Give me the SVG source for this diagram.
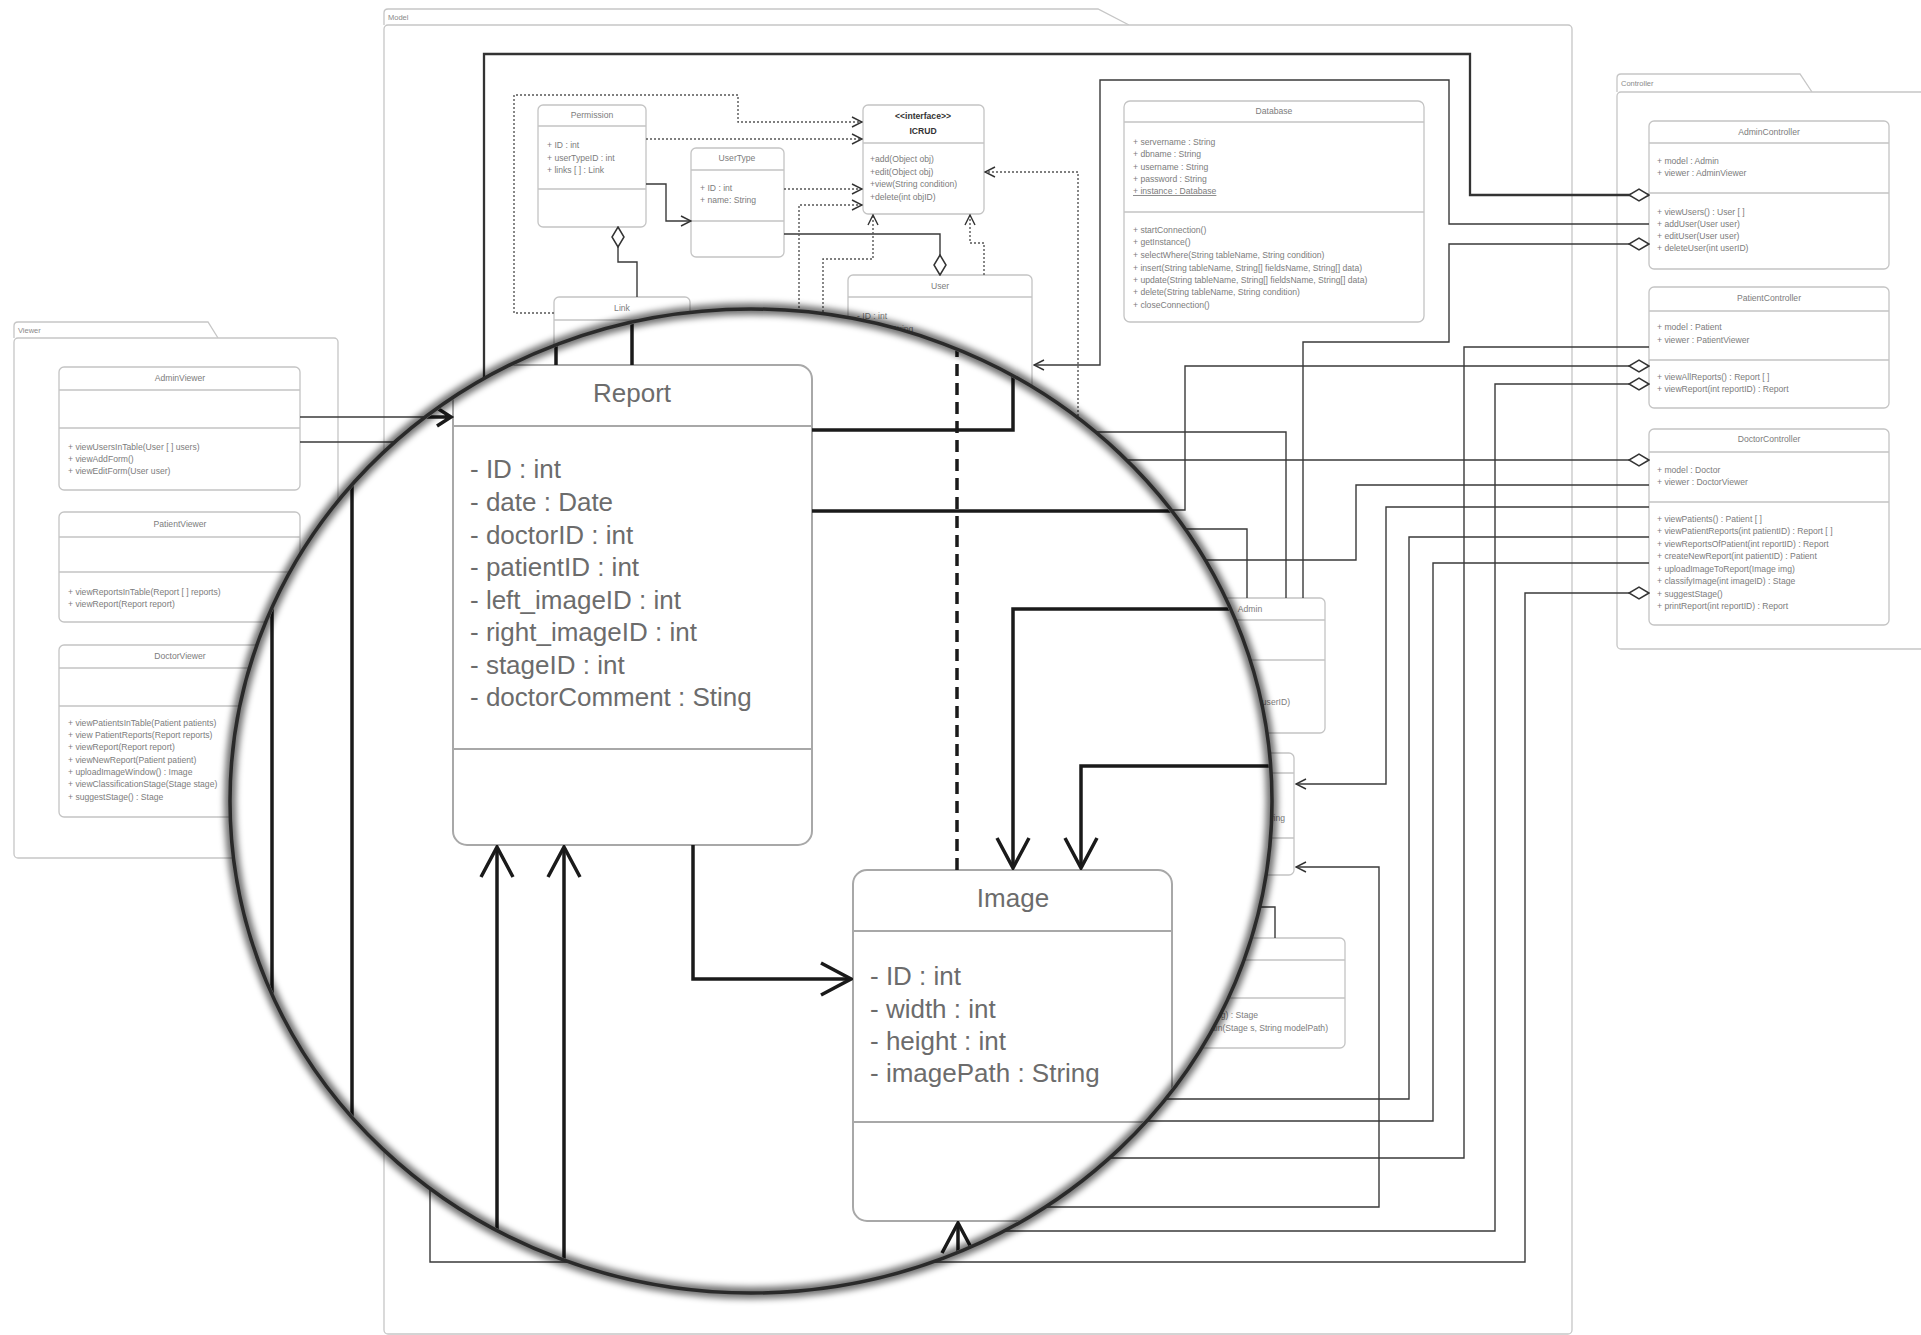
<svg xmlns="http://www.w3.org/2000/svg" width="1921" height="1335" viewBox="0 0 1921 1335">
<defs>
<style>
.pkg{fill:#fff;stroke:#c6c6c6;stroke-width:1.3}
.box{fill:#fff;stroke:#c4c4c4;stroke-width:1.3}
.sep{stroke:#c4c4c4;stroke-width:1.3;fill:none}
.t{font-family:"Liberation Sans",Arial,sans-serif;font-size:8.6px;fill:#7c7c7c}
.c{text-anchor:middle}
.e{text-anchor:end}
.b{font-weight:bold;fill:#333}
.pl{font-family:"Liberation Sans",Arial,sans-serif;font-size:7.5px;fill:#8a8a8a}
.ln{fill:none;stroke:#3a3a3a;stroke-width:1.4}
.thk{stroke-width:2.3;stroke:#333}
.dot{fill:none;stroke:#555;stroke-width:1.4;stroke-dasharray:2 2}
.mbox{fill:#fff;stroke:#a8a8a8;stroke-width:2}
.msep{stroke:#a8a8a8;stroke-width:2;fill:none}
.mt{font-family:"Liberation Sans",Arial,sans-serif;font-size:26px;fill:#6c6c6c}
.big{fill:none;stroke:#1a1a1a;stroke-width:3.5}
.dash{stroke-dasharray:12 7}
</style>
<marker id="arr" viewBox="0 0 12 12" refX="11" refY="6" markerWidth="12" markerHeight="12" orient="auto" markerUnits="userSpaceOnUse"><path d="M1,1 L11,6 L1,11" fill="none" stroke="#333" stroke-width="1.4"/></marker>
<marker id="dia" viewBox="0 0 22 14" refX="1" refY="7" markerWidth="22" markerHeight="14" orient="auto" markerUnits="userSpaceOnUse"><path d="M1,7 L11,1 L21,7 L11,13 Z" fill="#fff" stroke="#333" stroke-width="1.5"/></marker>
<marker id="arrB" viewBox="0 0 34 36" refX="32" refY="18" markerWidth="34" markerHeight="36" orient="auto" markerUnits="userSpaceOnUse"><path d="M2,2 L32,18 L2,34" fill="none" stroke="#1a1a1a" stroke-width="3.5"/></marker>
<clipPath id="lens"><ellipse cx="751" cy="801" rx="519" ry="490"/></clipPath>
<filter id="blur" x="-10%" y="-10%" width="120%" height="120%"><feGaussianBlur stdDeviation="3"/></filter>
</defs>
<rect x="0" y="0" width="1921" height="1335" fill="#fff"/>

<!-- packages -->
<g id="pkg-model">
<path class="pkg" d="M384,25 V13 Q384,9 388,9 H1098 L1129,25"/>
<rect class="pkg" x="384" y="25" width="1188" height="1309" rx="4"/>
<text class="pl" x="388" y="20">Model</text>
</g>
<g id="pkg-viewer">
<path class="pkg" d="M14,338 V326 Q14,322 18,322 H208 L218,338"/>
<rect class="pkg" x="14" y="338" width="324" height="520" rx="4"/>
<text class="pl" x="18" y="333">Viewer</text>
</g>
<g id="pkg-controller">
<path class="pkg" d="M1617,92 V78 Q1617,74 1621,74 H1800 L1812,92"/>
<rect class="pkg" x="1617" y="92" width="330" height="557" rx="4"/>
<text class="pl" x="1621" y="86">Controller</text>
</g>

<!-- viewer nodes -->
<g id="AdminViewer">
<rect class="box" x="59" y="367" width="241" height="123" rx="5"/>
<path class="sep" d="M59,390 H300 M59,428 H300"/>
<text class="t c" x="180" y="381">AdminViewer</text>
<text class="t" x="68" y="450">+ viewUsersInTable(User [ ] users)</text>
<text class="t" x="68" y="462">+ viewAddForm()</text>
<text class="t" x="68" y="474">+ viewEditForm(User user)</text>
</g>
<g id="PatientViewer">
<rect class="box" x="59" y="512" width="241" height="110" rx="5"/>
<path class="sep" d="M59,537 H300 M59,572 H300"/>
<text class="t c" x="180" y="527">PatientViewer</text>
<text class="t" x="68" y="595">+ viewReportsInTable(Report [ ] reports)</text>
<text class="t" x="68" y="607">+ viewReport(Report report)</text>
</g>
<g id="DoctorViewer">
<rect class="box" x="59" y="645" width="241" height="172" rx="5"/>
<path class="sep" d="M59,668 H300 M59,706 H300"/>
<text class="t c" x="180" y="659">DoctorViewer</text>
<text class="t" x="68" y="726">+ viewPatientsInTable(Patient patients)</text>
<text class="t" x="68" y="738">+ view PatientReports(Report reports)</text>
<text class="t" x="68" y="750">+ viewReport(Report report)</text>
<text class="t" x="68" y="763">+ viewNewReport(Patient patient)</text>
<text class="t" x="68" y="775">+ uploadImageWindow() : Image</text>
<text class="t" x="68" y="787">+ viewClassificationStage(Stage stage)</text>
<text class="t" x="68" y="800">+ suggestStage() : Stage</text>
</g>

<!-- controller nodes -->
<g id="AdminController">
<rect class="box" x="1649" y="121" width="240" height="148" rx="5"/>
<path class="sep" d="M1649,143 H1889 M1649,193 H1889"/>
<text class="t c" x="1769" y="135">AdminController</text>
<text class="t" x="1657" y="164">+ model : Admin</text>
<text class="t" x="1657" y="176">+ viewer : AdminViewer</text>
<text class="t" x="1657" y="215">+ viewUsers() : User [ ]</text>
<text class="t" x="1657" y="227">+ addUser(User user)</text>
<text class="t" x="1657" y="239">+ editUser(User user)</text>
<text class="t" x="1657" y="251">+ deleteUser(int userID)</text>
</g>
<g id="PatientController">
<rect class="box" x="1649" y="287" width="240" height="121" rx="5"/>
<path class="sep" d="M1649,311 H1889 M1649,360 H1889"/>
<text class="t c" x="1769" y="301">PatientController</text>
<text class="t" x="1657" y="330">+ model : Patient</text>
<text class="t" x="1657" y="343">+ viewer : PatientViewer</text>
<text class="t" x="1657" y="380">+ viewAllReports() : Report [ ]</text>
<text class="t" x="1657" y="392">+ viewReport(int reportID) : Report</text>
</g>
<g id="DoctorController">
<rect class="box" x="1649" y="429" width="240" height="196" rx="5"/>
<path class="sep" d="M1649,452 H1889 M1649,502 H1889"/>
<text class="t c" x="1769" y="442">DoctorController</text>
<text class="t" x="1657" y="473">+ model : Doctor</text>
<text class="t" x="1657" y="485">+ viewer : DoctorViewer</text>
<text class="t" x="1657" y="522">+ viewPatients() : Patient [ ]</text>
<text class="t" x="1657" y="534">+ viewPatientReports(int patientID) : Report [ ]</text>
<text class="t" x="1657" y="547">+ viewReportsOfPatient(int reportID) : Report</text>
<text class="t" x="1657" y="559">+ createNewReport(int patientID) : Patient</text>
<text class="t" x="1657" y="572">+ uploadImageToReport(Image img)</text>
<text class="t" x="1657" y="584">+ classifyImage(int imageID) : Stage</text>
<text class="t" x="1657" y="597">+ suggestStage()</text>
<text class="t" x="1657" y="609">+ printReport(int reportID) : Report</text>
</g>

<!-- model nodes -->
<g id="Permission">
<rect class="box" x="538" y="105" width="108" height="122" rx="5"/>
<path class="sep" d="M538,126 H646 M538,189 H646"/>
<text class="t c" x="592" y="118">Permission</text>
<text class="t" x="547" y="148">+ ID : int</text>
<text class="t" x="547" y="161">+ userTypeID : int</text>
<text class="t" x="547" y="173">+ links [ ] : Link</text>
</g>
<g id="UserType">
<rect class="box" x="691" y="148" width="93" height="109" rx="5"/>
<path class="sep" d="M691,170 H784 M691,221 H784"/>
<text class="t c" x="737" y="161">UserType</text>
<text class="t" x="700" y="191">+ ID : int</text>
<text class="t" x="700" y="203">+ name: String</text>
</g>
<g id="ICRUD">
<rect class="box" x="863" y="105" width="121" height="109" rx="5"/>
<path class="sep" d="M863,143 H984"/>
<text class="t c b" x="923" y="119">&lt;&lt;interface&gt;&gt;</text>
<text class="t c b" x="923" y="134">ICRUD</text>
<text class="t" x="870" y="162">+add(Object obj)</text>
<text class="t" x="870" y="175">+edit(Object obj)</text>
<text class="t" x="870" y="187">+view(String condition)</text>
<text class="t" x="870" y="200">+delete(int objID)</text>
</g>
<g id="Database">
<rect class="box" x="1124" y="101" width="300" height="221" rx="6"/>
<path class="sep" d="M1124,122 H1424 M1124,212 H1424"/>
<text class="t c" x="1274" y="114">Database</text>
<text class="t" x="1133" y="145">+  servername : String</text>
<text class="t" x="1133" y="157">+ dbname : String</text>
<text class="t" x="1133" y="170">+ username : String</text>
<text class="t" x="1133" y="182">+ password : String</text>
<text class="t" x="1133" y="194" text-decoration="underline">+ instance : Database</text>
<text class="t" x="1133" y="233">+ startConnection()</text>
<text class="t" x="1133" y="245">+ getInstance()</text>
<text class="t" x="1133" y="258">+ selectWhere(String tableName, String condition)</text>
<text class="t" x="1133" y="271">+ insert(String tableName, String[] fieldsName, String[] data)</text>
<text class="t" x="1133" y="283">+ update(String tableName, String[] fieldsName, String[] data)</text>
<text class="t" x="1133" y="295">+ delete(String tableName, String condition)</text>
<text class="t" x="1133" y="308">+ closeConnection()</text>
</g>
<g id="Link">
<rect class="box" x="554" y="297" width="136" height="110" rx="5"/>
<path class="sep" d="M554,320 H690"/>
<text class="t c" x="622" y="311">Link</text>
</g>
<g id="User">
<rect class="box" x="848" y="275" width="184" height="150" rx="5"/>
<path class="sep" d="M848,297 H1032"/>
<text class="t c" x="940" y="289">User</text>
<text class="t" x="857" y="319">- ID : int</text>
<text class="t" x="857" y="332">- name : String</text>
</g>
<g id="Admin">
<rect class="box" x="1180" y="598" width="145" height="135" rx="5"/>
<path class="sep" d="M1180,620 H1325 M1180,660 H1325"/>
<text class="t c" x="1250" y="612">Admin</text>
<text class="t e" x="1290" y="705">+ deleteUser(int userID)</text>
</g>
<g id="Doctor">
<rect class="box" x="1180" y="753" width="114" height="122" rx="5"/>
<path class="sep" d="M1180,773 H1294 M1180,838 H1294"/>
<text class="t e" x="1285" y="821">- name : String</text>
</g>
<g id="Stage">
<rect class="box" x="1180" y="938" width="165" height="110" rx="5"/>
<path class="sep" d="M1180,960 H1345 M1180,998 H1345"/>
<text class="t e" x="1258" y="1018">+ classify(Image img) : Stage</text>
<text class="t e" x="1328" y="1031">+ train(Stage s, String modelPath)</text>
</g>

<!-- background connectors -->
<g id="connectors">
<path class="ln thk" d="M1649,195 H1470 V54 H484 V420" marker-start="url(#dia)"/>
<path class="ln" d="M1649,224 H1449 V80 H1100 V365 H1034" marker-end="url(#arr)"/>
<path class="ln" d="M1649,244 H1449 V342 H1303 V598" marker-start="url(#dia)"/>
<path class="ln" d="M1649,347 H1464 V1158 H1000"/>
<path class="ln" d="M1649,366 H1185 V510 H1100" marker-start="url(#dia)"/>
<path class="ln" d="M1649,384 H1495 V1231 H950" marker-start="url(#dia)"/>
<path class="ln" d="M1649,460 H1050" marker-start="url(#dia)"/>
<path class="ln" d="M1649,485 H1356 V560 H1100"/>
<path class="ln" d="M1649,507 H1386 V784 H1296" marker-end="url(#arr)"/>
<path class="ln" d="M1649,537 H1409 V1099 H1050"/>
<path class="ln" d="M1649,563 H1433 V1121 H1050"/>
<path class="ln" d="M1649,593 H1525 V1262 H430 V1100" marker-start="url(#dia)"/>
<path class="ln" d="M1000,1207 H1379 V867 H1296" marker-end="url(#arr)"/>
<path class="ln" d="M1080,432 H1286 V598"/>
<path class="ln" d="M1150,529 H1247 V598"/>
<path class="ln" d="M300,417 H480"/>
<path class="ln" d="M300,442 H480"/>
<path class="ln" d="M646,184 H666 V221 H691" marker-end="url(#arr)"/>
<path class="ln" d="M618,227 V262 H637 V297" marker-start="url(#dia)"/>
<path class="ln" d="M940,275 V234 H784" marker-start="url(#dia)"/>
<path class="dot" d="M554,313 H514 V95 H738 V122 H862" marker-end="url(#arr)"/>
<path class="dot" d="M646,139 H862" marker-end="url(#arr)"/>
<path class="dot" d="M784,189 H862" marker-end="url(#arr)"/>
<path class="dot" d="M799,420 V205 H862" marker-end="url(#arr)"/>
<path class="dot" d="M823,420 V259 H873 V215" marker-end="url(#arr)"/>
<path class="dot" d="M984,275 V243 H970 V215" marker-end="url(#arr)"/>
<path class="dot" d="M1078,440 V172 H985" marker-end="url(#arr)"/>
<path class="ln" d="M1275,938 V907 H1200"/>
</g>

<!-- magnifier -->
<g id="magnifier">
<ellipse cx="751" cy="801" rx="521" ry="492" fill="#fff"/>
<g clip-path="url(#lens)">
<g id="Report">
<rect class="mbox" x="453" y="365" width="359" height="480" rx="14"/>
<path class="msep" d="M453,426 H812 M453,749 H812"/>
<text class="mt c" x="632" y="402">Report</text>
<text class="mt" x="470" y="478">- ID : int</text>
<text class="mt" x="470" y="511">- date : Date</text>
<text class="mt" x="470" y="544">- doctorID : int</text>
<text class="mt" x="470" y="576">- patientID : int</text>
<text class="mt" x="470" y="609">- left_imageID : int</text>
<text class="mt" x="470" y="641">- right_imageID : int</text>
<text class="mt" x="470" y="674">- stageID : int</text>
<text class="mt" x="470" y="706">- doctorComment : Sting</text>
</g>
<g id="Image">
<rect class="mbox" x="853" y="870" width="319" height="351" rx="14"/>
<path class="msep" d="M853,931 H1172 M853,1122 H1172"/>
<text class="mt c" x="1013" y="907">Image</text>
<text class="mt" x="870" y="985">- ID : int</text>
<text class="mt" x="870" y="1018">- width : int</text>
<text class="mt" x="870" y="1050">- height : int</text>
<text class="mt" x="870" y="1082">- imagePath : String</text>
</g>
<g id="lens-connectors">
<path class="big" d="M556,250 V365"/>
<path class="big" d="M632,250 V365"/>
<path class="big" d="M812,430 H1013 V250"/>
<path class="big" d="M812,511 H1300"/>
<path class="big dash" d="M957,250 V870"/>
<path class="big" d="M1300,609 H1013 V868" marker-end="url(#arrB)"/>
<path class="big" d="M1300,766 H1081 V868" marker-end="url(#arrB)"/>
<path class="big" d="M693,845 V979 H851" marker-end="url(#arrB)"/>
<path class="big" d="M497,1320 V847" marker-end="url(#arrB)"/>
<path class="big" d="M564,1320 V847" marker-end="url(#arrB)"/>
<path class="big" d="M958,1320 V1223" marker-end="url(#arrB)"/>
<path class="big" d="M272,300 V1300"/>
<path class="big" d="M352,300 V1300"/>
<path class="big" d="M400,417 H451 M437,408 L451,417 L437,426"/>
</g>
</g>
<ellipse cx="751" cy="801" rx="521" ry="492" fill="none" stroke="#000" stroke-opacity="0.55" stroke-width="12" filter="url(#blur)"/>
<ellipse cx="751" cy="801" rx="521" ry="492" fill="none" stroke="#2a2a2a" stroke-width="3.5"/>
</g>
</svg>
